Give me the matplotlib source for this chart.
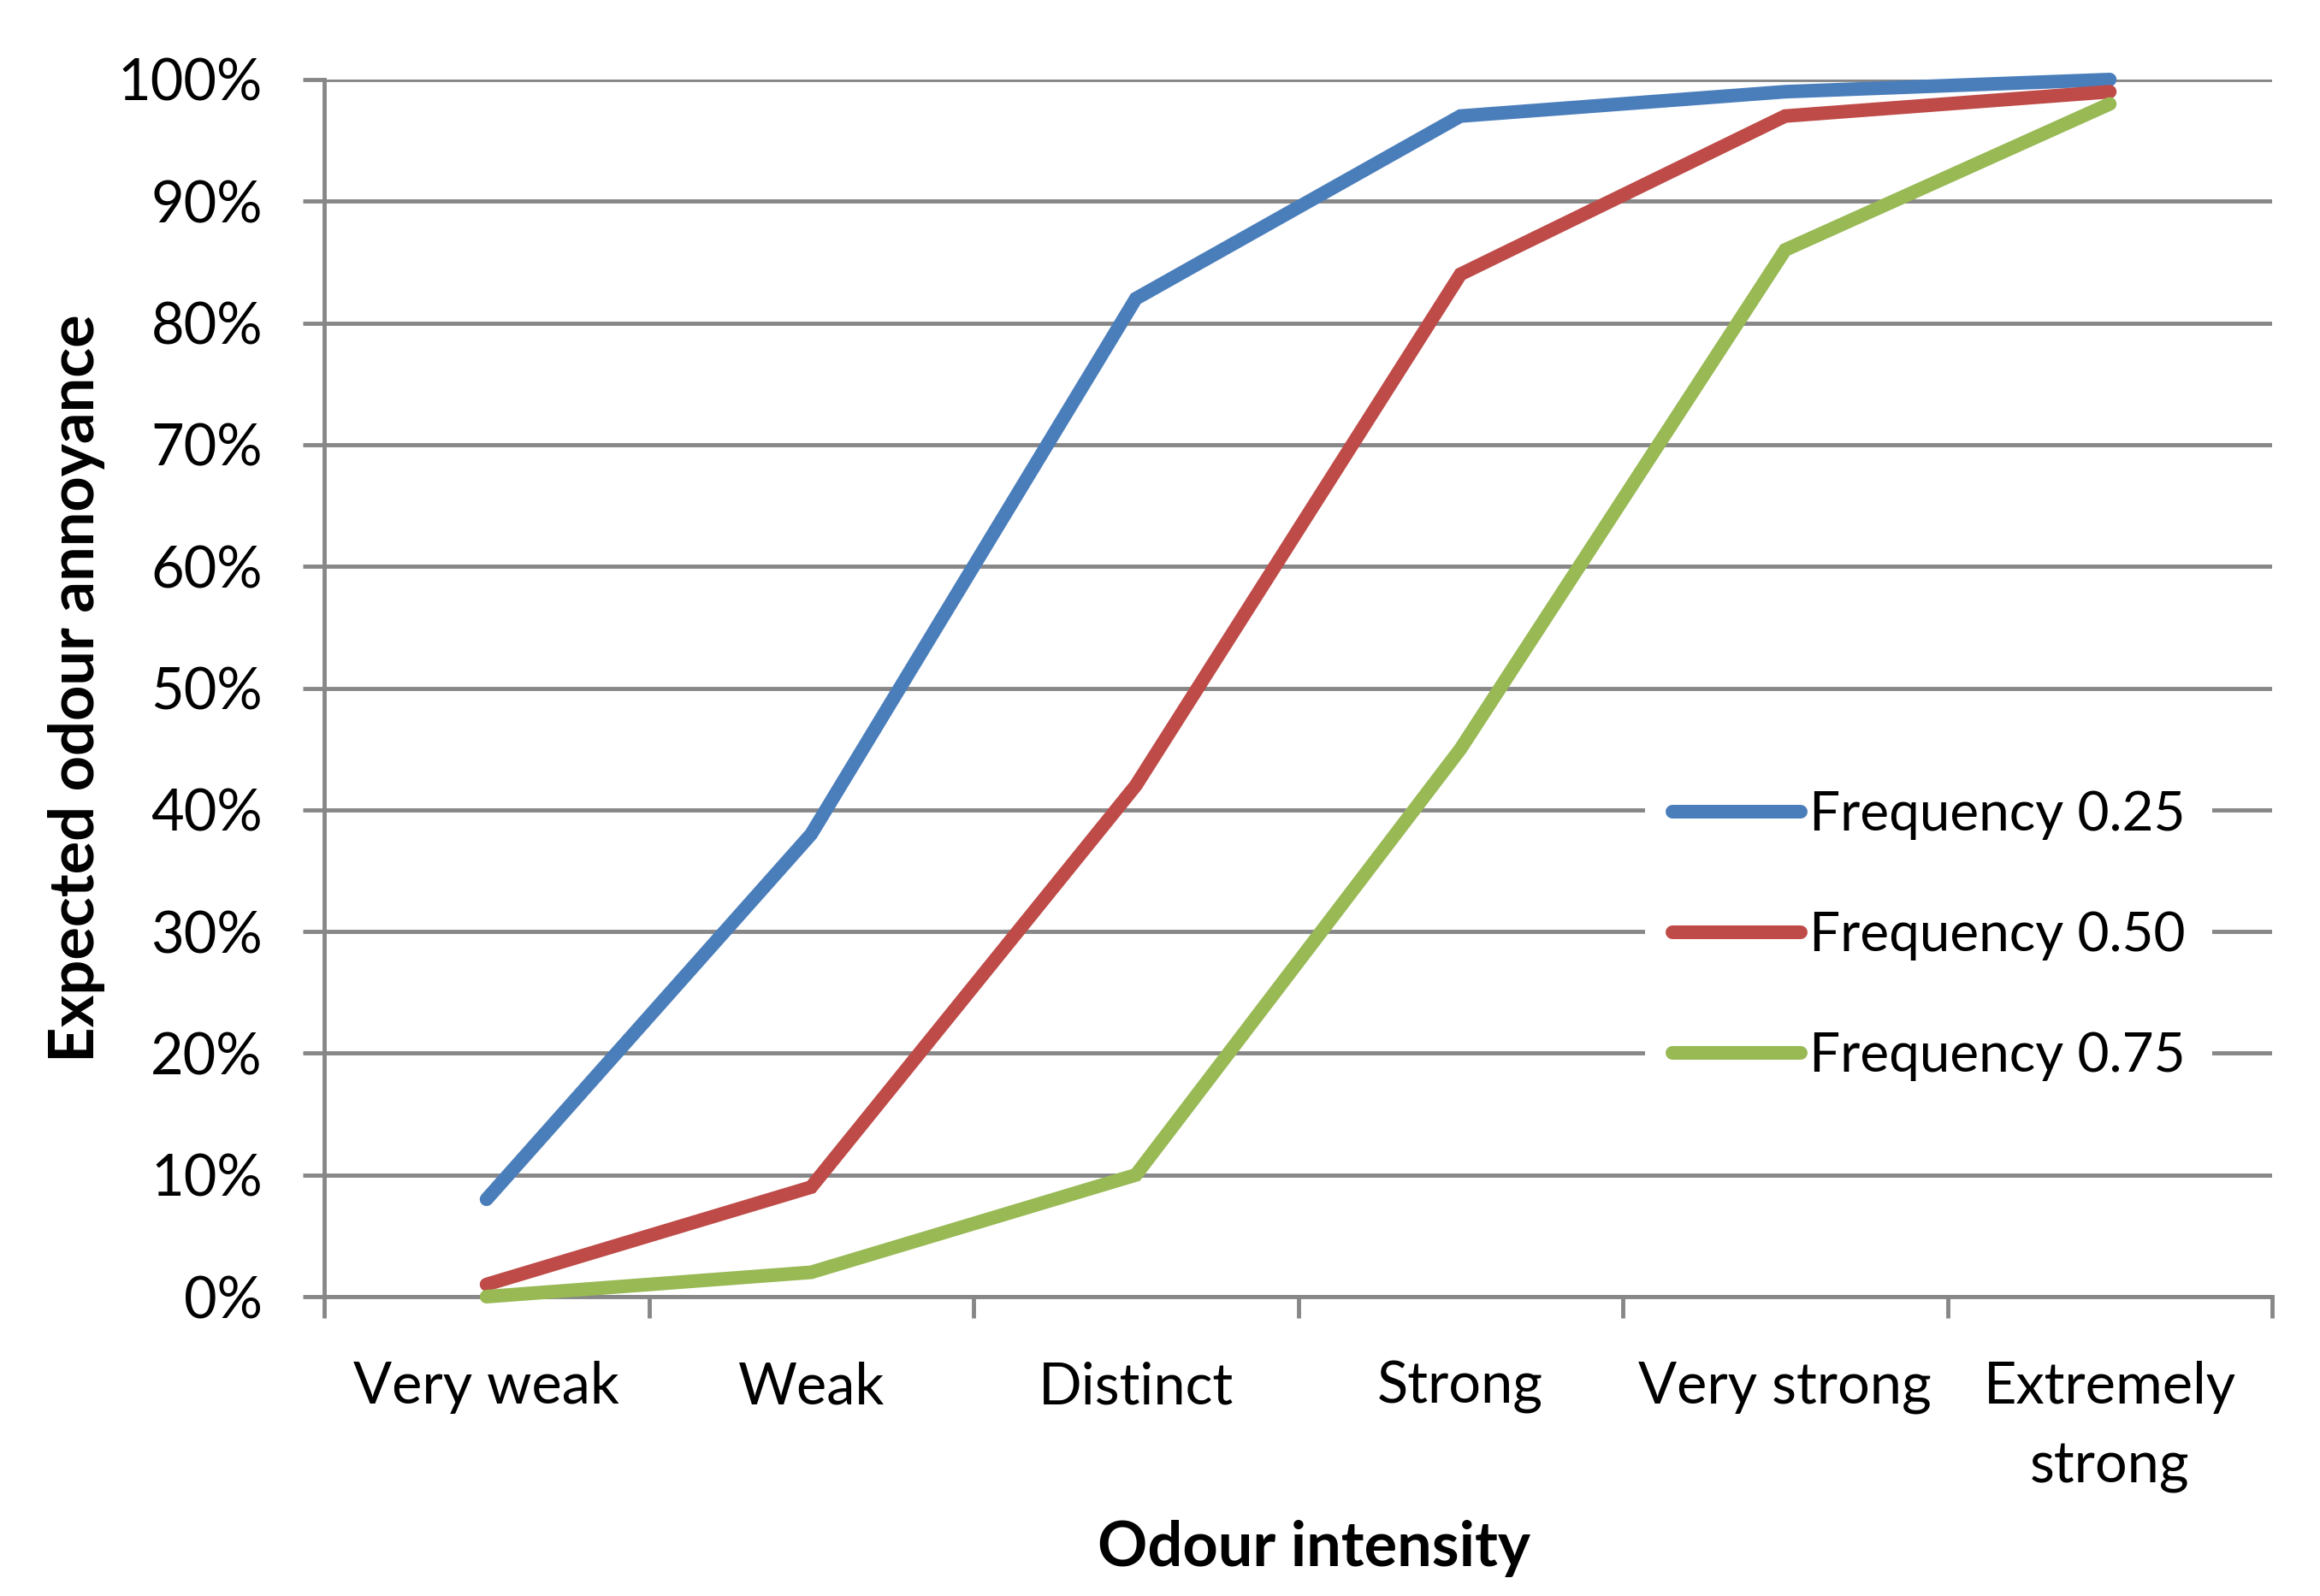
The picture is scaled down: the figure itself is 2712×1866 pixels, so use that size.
import numpy as np
import matplotlib.pyplot as plt
from matplotlib.ticker import PercentFormatter

categories = ["Very weak", "Weak", "Distinct", "Strong", "Very strong", "Extremely\nstrong"]
freq_025 = [8, 38, 82, 97, 99, 100]
freq_050 = [1, 9, 42, 84, 97, 99]
freq_075 = [0, 2, 10, 45, 86, 98]
series_names = ["Frequency 0.25", "Frequency 0.50", "Frequency 0.75"]
y_ticks = [0, 10, 20, 30, 40, 50, 60, 70, 80, 90, 100]

COLORS = ["#4A7EBB", "#BE4B48", "#98B954"]
GRID = "#878787"
FONT = "Lato"
FS = 48
FS_LEG = 46
FS_LAB = 52
LW = 11.5

plt.rcParams["font.family"] = [FONT, "DejaVu Sans"]

fig = plt.figure(figsize=(27.12, 18.66), dpi=100)
ax = fig.add_axes([379 / 2712, 350 / 1866, (2656 - 379) / 2712, (1516 - 93) / 1866])

x = np.arange(len(categories))
for vals, name, col in zip([freq_025, freq_050, freq_075], series_names, COLORS):
    ax.plot(x, vals, color=col, linewidth=LW, label=name,
            solid_capstyle="round", solid_joinstyle="miter",
            clip_on=False, zorder=3)

ax.set_xlim(-0.5, len(categories) - 0.5)
ax.set_ylim(0, 100)

# gridlines / axes
ax.set_yticks(y_ticks)
ax.yaxis.set_major_formatter(PercentFormatter(decimals=0))
ax.grid(axis="y", color=GRID, linewidth=3.5)
ax.set_axisbelow(True)

ax.set_xticks(np.arange(-0.5, len(categories), 1))
ax.set_xticklabels([])
ax.set_xticks(x, minor=True)
ax.set_xticklabels(categories, minor=True, fontsize=FS, linespacing=1.6, va="top")

ax.tick_params(axis="x", which="major", length=18, width=3.5, color=GRID, direction="out")
ax.tick_params(axis="x", which="minor", length=0, pad=54)
ax.tick_params(axis="y", length=18, width=3.5, color=GRID, direction="out", pad=34, labelsize=FS)

for side in ["top", "right"]:
    ax.spines[side].set_visible(False)
for side in ["left", "bottom"]:
    ax.spines[side].set_color(GRID)
    ax.spines[side].set_linewidth(3.5)

ax.set_ylabel("Expected odour annoyance", fontsize=FS_LAB, fontweight="bold", va="center")
ax.yaxis.set_label_coords(-0.127, 0.5)
ax.set_xlabel("Odour intensity", fontsize=FS_LAB, fontweight="bold", va="center")
ax.xaxis.set_label_coords(0.508, -0.207)

leg = ax.legend(loc="center left", bbox_to_anchor=(0.664, 0.2966), fontsize=FS_LEG,
                frameon=True, facecolor="white", edgecolor="none", framealpha=1,
                handlelength=2.35, handletextpad=0.15, labelspacing=1.3,
                borderpad=0.5, fancybox=False)
for line in leg.get_lines():
    line.set_linewidth(LW)
    line.set_solid_capstyle("round")

fig.savefig("out.png", dpi=100, facecolor="white")
